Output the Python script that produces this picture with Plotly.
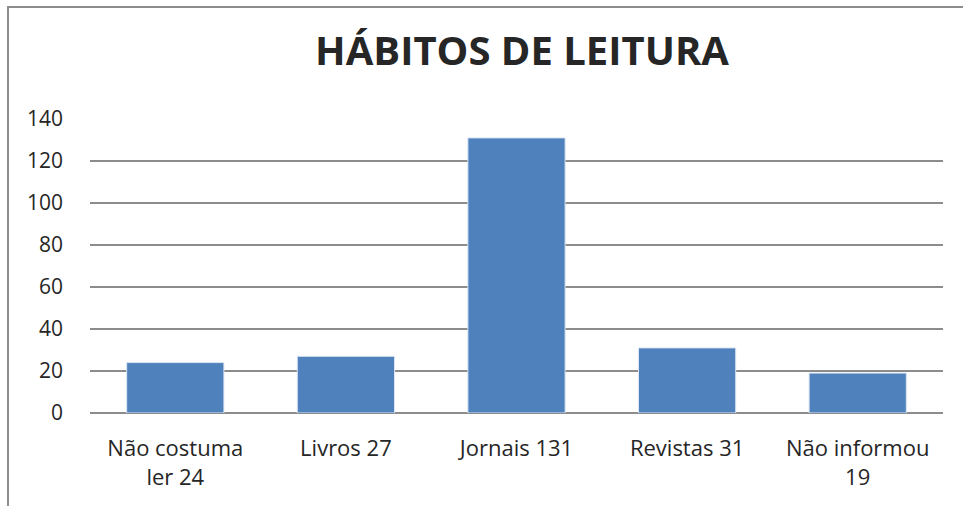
import plotly.graph_objects as go

# reading habits survey
categorias = ["Não costuma<br>ler 24", "Livros 27", "Jornais 131", "Revistas 31", "Não informou<br>19"]
valores = [24, 27, 131, 31, 19]
y_ticks = [0, 20, 40, 60, 80, 100, 120, 140]

W, H = 963, 506
L, R, T, B = 90, 20, 119, 93
pw, ph = W - L - R, H - T - B

fig = go.Figure()
fig.add_trace(go.Bar(
    x=categorias, y=valores,
    marker=dict(color="#4F81BD", line=dict(color="#DCE6F2", width=1)),
    width=0.57,
))

# outer chart frame (only left and top edges fall inside the picture)
fig.add_shape(type="rect", xref="paper", yref="paper",
              x0=(8 - L) / pw, x1=(975 - L) / pw,
              y0=(H - B - 515) / ph, y1=(H - B - 7) / ph,
              line=dict(color="#8C8C8C", width=2), layer="below")

fig.update_layout(
    width=W, height=H,
    margin=dict(l=L, r=R, t=T, b=B),
    paper_bgcolor="white", plot_bgcolor="white",
    font=dict(family="Open Sans", size=20, color="#262626"),
    title=dict(text="<b>HÁBITOS DE LEITURA</b>", x=(522 / W), xanchor="center",
               y=1 - 51 / H, yanchor="middle",
               font=dict(family="Open Sans", size=40, color="#262626")),
    showlegend=False,
    bargap=0.43,
)
fig.update_xaxes(showgrid=False, showline=False, ticks="", automargin=False,
                 ticklabelstandoff=20, tickfont=dict(size=22))
fig.update_yaxes(range=[0, 140], tickvals=y_ticks, showgrid=True, gridcolor="#8C8C8C",
                 gridwidth=1.5, zeroline=True, zerolinecolor="#8C8C8C", zerolinewidth=1.5,
                 showline=False, ticks="", automargin=False,
                 ticklabelstandoff=26, tickfont=dict(size=21))

# page body margin would push the figure off by 8px
fig.write_html("out.html", config={"displayModeBar": False},
               post_script="document.body.style.margin='0';")
